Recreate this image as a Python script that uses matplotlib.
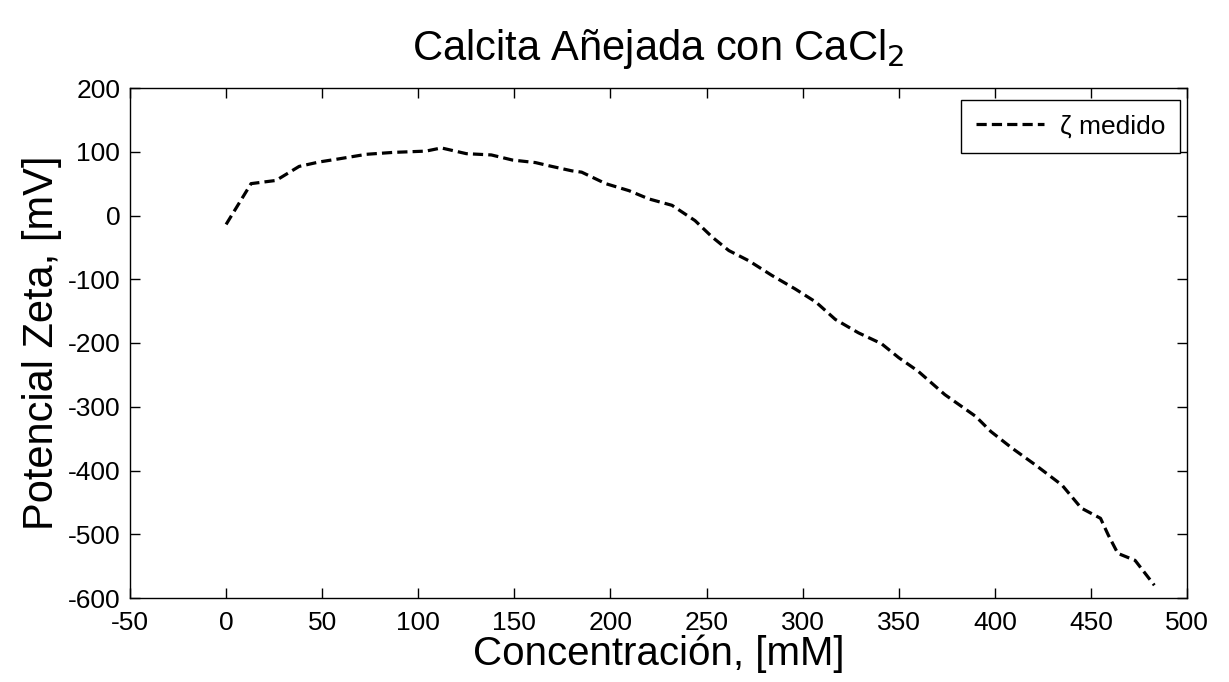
import matplotlib
matplotlib.use("Agg")
import matplotlib.pyplot as plt

plt.rcParams['font.family'] = ['Liberation Sans', 'DejaVu Sans']
plt.rcParams['axes.unicode_minus'] = False

conc = [0, 13, 26, 38, 48.5, 59, 73, 87, 104, 112, 125, 138, 149, 161, 168, 180,
        185, 197.5, 209.6, 220, 232, 244, 253, 261.6, 272, 284, 296, 307, 317, 329,
        341, 350, 360, 374, 390, 398, 409, 421, 435, 445, 455, 459, 464, 473, 483]
zeta = [-14, 50, 55, 77, 84, 89, 96, 99, 101, 106, 97, 95, 87, 83, 78, 70,
        68, 50, 39, 26, 16, -8, -34, -55, -71, -94, -115, -136, -163, -184,
        -201, -223, -244, -281, -315, -339, -365, -391, -423, -459, -475, -501, -530, -541, -580]

xticks = [-50, 0, 50, 100, 150, 200, 250, 300, 350, 400, 450, 500]
yticks = [-600, -500, -400, -300, -200, -100, 0, 100, 200]

fig = plt.figure(figsize=(12.29, 6.82), dpi=100)
ax = fig.add_axes([130/1229, 1 - 598/682, (1187-130)/1229, (598-88)/682])
ax.plot(conc, zeta, linestyle=(0, (3.2, 1.6)), color='black', linewidth=2.3, label='ζ medido')
ax.set_xlim(-50, 500)
ax.set_ylim(-600, 200)
ax.set_xticks(xticks)
ax.set_yticks(yticks)
ax.tick_params(axis='both', labelsize=19, direction='in', length=7, width=1,
               top=True, right=True)
ax.tick_params(axis='x', pad=9)
ax.tick_params(axis='y', pad=7)
for s in ax.spines.values():
    s.set_linewidth(1)
ax.set_xlabel('Concentración, [mM]', fontsize=29, labelpad=0)
ax.set_ylabel('Potencial Zeta, [mV]', fontsize=30, labelpad=4)
ax.set_title('Calcita Añejada con CaCl$_2$', fontsize=30, pad=20)
leg = ax.legend(loc='upper right', fontsize=19, fancybox=False, edgecolor='black',
                framealpha=1, handlelength=2.6, handletextpad=0.6, borderpad=0.55,
                bbox_to_anchor=(1180/1229, 1 - 100/682), bbox_transform=fig.transFigure,
                borderaxespad=0)
leg.get_frame().set_linewidth(1)
fig.savefig('out.png', dpi=100)
